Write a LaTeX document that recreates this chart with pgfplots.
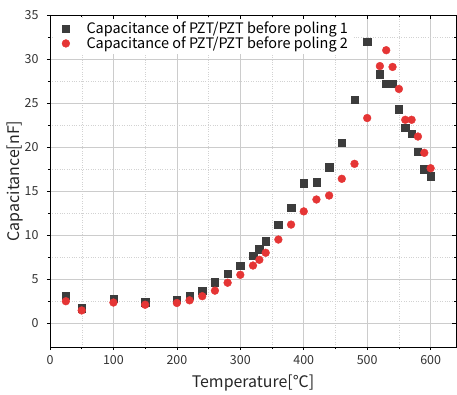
\documentclass[border=0pt]{standalone}
\usepackage{pgfplots}
\pgfplotsset{compat=1.18}
\usepackage{fontspec}
\setmainfont{Noto Sans CJK JP}
\definecolor{sq}{HTML}{3C3C3C}
\definecolor{rd}{HTML}{E53535}
\pgfplotsset{myleg/.style={legend image code/.code={\path (0cm,0cm) (0.95cm,0cm); \draw[##1] plot coordinates {(0.3cm,0cm)};}}}
\begin{document}
\begin{tikzpicture}
\begin{axis}[
  scale only axis, width=406bp, height=332bp,
  xmin=0, xmax=640, ymin=-2.7, ymax=35,
  xtick={0,100,...,600}, ytick={0,5,...,35},
  minor x tick num=1, minor y tick num=1,
  xtick pos=left, ytick pos=left, tick align=outside,
  major tick length=3bp, minor tick length=2bp,
  grid=both,
  major grid style={gray!40, line width=0.6pt},
  minor grid style={gray!35, dotted},
  axis line style={line width=0.8pt},
  tick style={black, line width=0.6pt},
  /pgf/number format/assume math mode=true,
  ticklabel style={font=\fontsize{12.5}{14}\selectfont, text=black!80},
  xticklabel style={yshift=-2bp},
  yticklabel style={xshift=-5bp},
  xlabel={Temperature[℃]}, ylabel={Capacitance[nF]},
  label style={font=\fontsize{16}{18}\selectfont, text=black!85},
  xlabel style={yshift=-3bp}, ylabel style={yshift=-5bp},
  legend style={at={(0,1)}, anchor=north west, draw=none, fill=white,
    font=\fontsize{14.5}{16}\selectfont, row sep=-2.5bp, inner sep=2bp,
    xshift=5bp, yshift=-3bp},
  legend cell align=left,
]
\coordinate (tl) at (rel axis cs:0,1);
\coordinate (br) at (rel axis cs:1,0);
\addplot[only marks, mark=square*, mark size=3.7bp, color=sq, myleg] coordinates {
(25,3.1) (50,1.7) (100,2.8) (150,2.4) (200,2.7) (220,3.1) (240,3.7) (260,4.65)
(280,5.6) (300,6.5) (320,7.65) (330,8.4) (340,9.3) (360,11.2) (380,13.1)
(400,15.9) (420,16.0) (440,17.7) (460,20.5) (480,25.4) (500,32.0) (520,28.3)
(530,27.2) (540,27.2) (550,24.3) (560,22.2) (570,21.5) (580,19.5) (590,17.5) (600,16.7)
};
\addlegendentry{Capacitance of PZT/PZT before poling 1}
\addplot[only marks, mark=*, mark size=3.9bp, color=rd, myleg] coordinates {
(25,2.5) (50,1.45) (100,2.35) (150,2.1) (200,2.3) (220,2.6) (240,3.07) (260,3.7)
(280,4.6) (300,5.5) (320,6.55) (330,7.2) (340,8.0) (360,9.5) (380,11.2)
(400,12.7) (420,14.05) (440,14.5) (460,16.4) (480,18.1) (500,23.3) (520,29.2)
(530,31.0) (540,29.1) (550,26.6) (560,23.1) (570,23.1) (580,21.2) (590,19.35) (600,17.6)
};
\addlegendentry{Capacitance of PZT/PZT before poling 2}
\end{axis}
\begin{pgfinterruptboundingbox}
\begin{axis}[
  scale only axis, width=406bp, height=332bp,
  xmin=0, xmax=640, ymin=-2.7, ymax=35,
  xtick={0,100,...,600}, ytick={0,5,...,35},
  minor x tick num=1, minor y tick num=1,
  xtick pos=right, ytick pos=right, tick align=inside,
  major tick length=4bp, minor tick length=2.5bp,
  xticklabels={}, yticklabels={},
  axis line style={line width=0.8pt},
  tick style={black, line width=0.6pt},
]
\end{axis}
\end{pgfinterruptboundingbox}
\path ([xshift=-50bp,yshift=15bp]tl) rectangle ([xshift=1bp,yshift=-45bp]br);
\end{tikzpicture}
\end{document}
